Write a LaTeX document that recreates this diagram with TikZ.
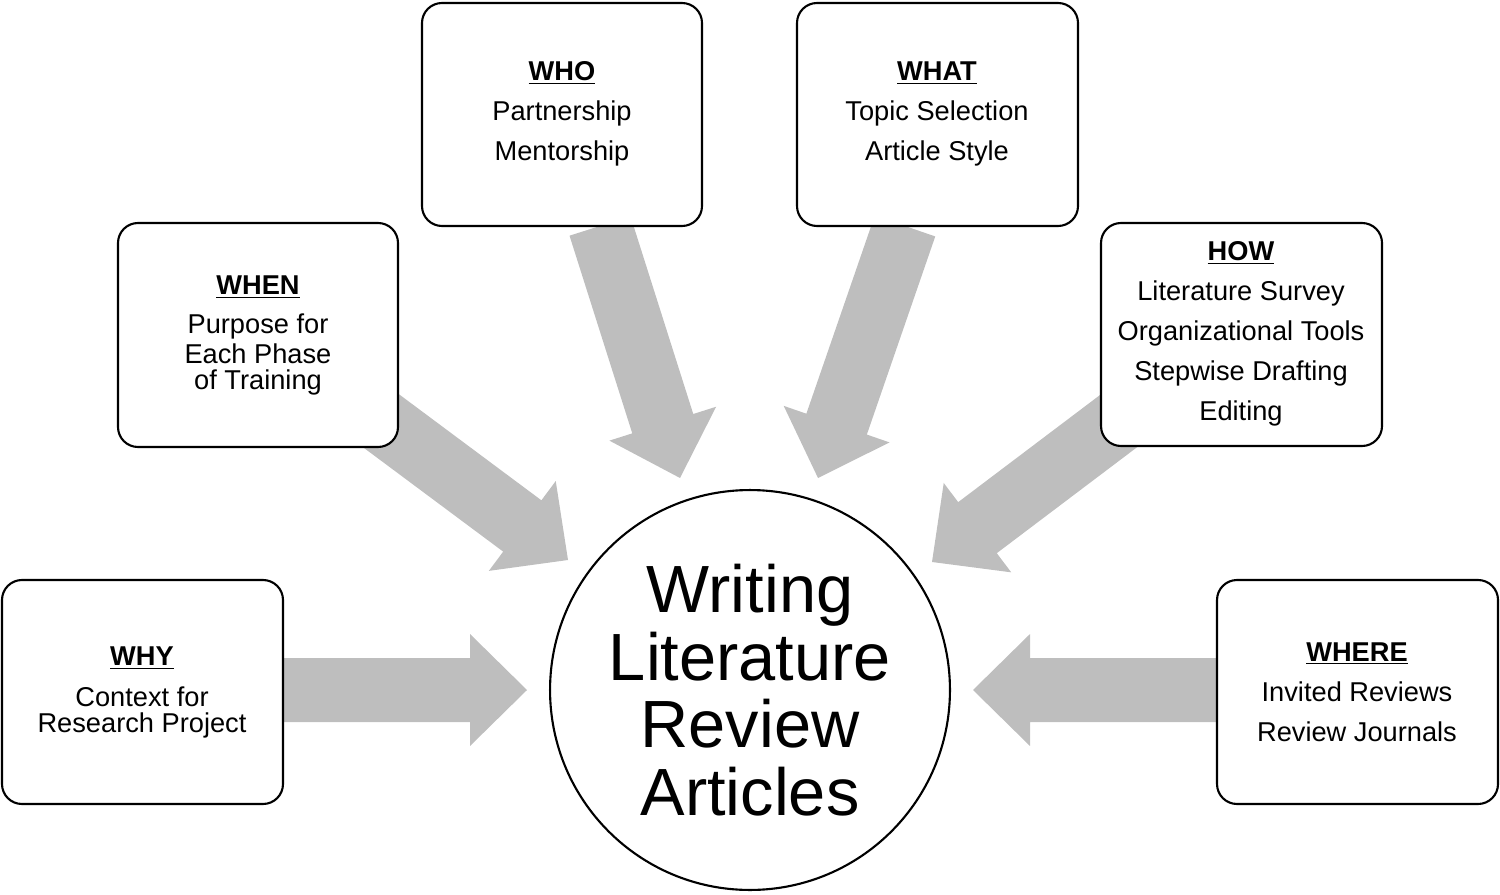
\documentclass[tikz,border=0pt]{standalone}
\usepackage{fontspec}
\setmainfont{Liberation Sans}
\usetikzlibrary{calc}
\definecolor{arr}{RGB}{190,190,190}
\newcommand{\blockarrow}[2]{%
  \coordinate (H) at ($(#2)!1.14cm!(#1)$);
  \fill[arr] ($(#1)!0.64cm!90:(#2)$) -- ($(H)!0.64cm!90:(#2)$) -- ($(H)!1.12cm!90:(#2)$) -- (#2)
   -- ($(H)!1.12cm!-90:(#2)$) -- ($(H)!0.64cm!-90:(#2)$) -- ($(#1)!0.64cm!-90:(#2)$) -- cycle;}
\begin{document}
\begin{tikzpicture}[x=0.02cm,y=-0.02cm,
  box/.style={draw,line width=1.2pt,rounded corners=0.4cm,fill=white},
  txt/.style={align=center,font=\fontsize{15.5}{22.7}\selectfont},
  ln/.style={inner sep=0pt,font=\fontsize{15.5}{18}\selectfont}]
\useasboundingbox (0,0) rectangle (1500,895);
\coordinate (why1) at (283,690); \coordinate (why2) at (527,690);
\coordinate (whe1) at (1217,690); \coordinate (whe2) at (973,690);
\coordinate (who1) at (600,226); \coordinate (who2) at (680,478);
\coordinate (wha1) at (905,226); \coordinate (wha2) at (818,478);
\coordinate (wn1) at (380,420); \coordinate (wn2) at (568,560);
\coordinate (how1) at (1120,420); \coordinate (how2) at (932,562);
\blockarrow{why1}{why2}
\blockarrow{whe1}{whe2}
\blockarrow{who1}{who2}
\blockarrow{wha1}{wha2}
\blockarrow{wn1}{wn2}
\blockarrow{how1}{how2}
\draw[box] (422,3) rectangle (702,226);
\node[txt] (who) at (562,114) {\textbf{\underline{WHO}}\\Partnership\\Mentorship};
\draw[box] (797,3) rectangle (1078,226);
\node[txt] (what) at (937,114) {\textbf{\underline{WHAT}}\\Topic Selection\\Article Style};
\draw[box] (118,223) rectangle (398,447);
\node[ln] (when) at (258,287) {\textbf{\underline{WHEN}}};
\node[ln] (when1) at (258,326) {Purpose for};
\node[ln] (when2) at (258,354) {Each Phase};
\node[ln] (when3) at (258,382) {of Training};
\draw[box] (1101,223) rectangle (1382,446);
\node[txt] (how) at (1241,334) {\textbf{\underline{HOW}}\\Literature Survey\\Organizational Tools\\Stepwise Drafting\\Editing};
\draw[box] (2,580) rectangle (283,804);
\node[ln] (why) at (142,658) {\textbf{\underline{WHY}}};
\node[ln] (why1t) at (142,697) {Context for};
\node[ln] (why2t) at (142,725) {Research Project};
\draw[box] (1217,580) rectangle (1498,804);
\node[txt] (where) at (1357,692) {\textbf{\underline{WHERE}}\\Invited Reviews\\Review Journals};
\draw[line width=1.2pt,fill=white] (750,690) circle[radius=4cm];
\node[align=center,font=\fontsize{38}{38.5}\selectfont] (c) at (750,690) {Writing\\Literature\\Review\\Articles};
\end{tikzpicture}
\end{document}
